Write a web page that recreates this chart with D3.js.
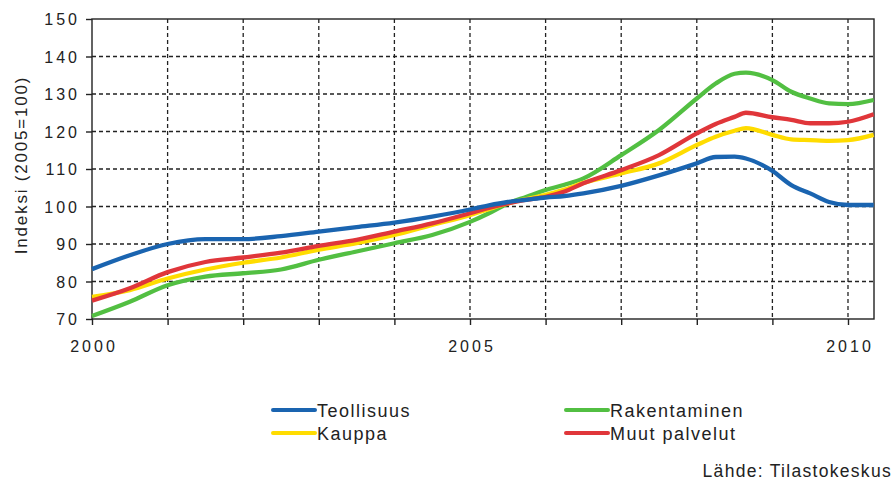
<!DOCTYPE html>
<html>
<head>
<meta charset="utf-8">
<script src="https://cdn.jsdelivr.net/npm/d3@7"></script>
<style>
  body { margin: 0; background: #fff; }
  svg { display: block; font-family: "Liberation Sans", Arial, sans-serif; }
</style>
</head>
<body>
<svg id="chart" width="892" height="487"></svg>
<script>
// time points (decimal years)
const dates = [2000, 2000.5, 2001, 2001.5, 2002, 2002.5, 2003, 2003.5, 2004, 2004.5,
  2005, 2005.25, 2005.5, 2005.75, 2006, 2006.25, 2006.5, 2007, 2007.5, 2008,
  2008.25, 2008.5, 2008.65, 2009, 2009.25, 2009.5, 2009.75, 2010, 2010.34]

const teollisuus = [83.3, 87, 90, 91.3, 91.3, 92.1, 93.3, 94.5, 95.7, 97.3,
  99.2, 100.3, 101.2, 101.8, 102.4, 102.8, 103.5, 105.5, 108.3, 111.5,
  113.2, 113.3, 112.8, 109.5, 105.7, 103.5, 101.2, 100.4, 100.4]

const rakentaminen = [70.8, 74.6, 79, 81.3, 82.2, 83.2, 85.8, 88, 90.2, 92.4,
  95.9, 98.2, 100.8, 102.6, 104.4, 105.8, 107.5, 113.7, 120.4, 128.8,
  132.8, 135.4, 135.7, 133.7, 130.6, 128.8, 127.5, 127.3, 128.4]

const kauppa = [75.9, 77.7, 80.8, 83.2, 85, 86.4, 88.5, 90.2, 92.4, 95.1,
  97.7, 99.3, 100.8, 102, 103.1, 104.5, 106.3, 108.8, 111.5, 116.4,
  118.6, 120.2, 120.9, 119.1, 117.9, 117.7, 117.5, 117.7, 119.1]

const muutPalvelut = [74.9, 78.2, 82.5, 85.2, 86.4, 87.7, 89.5, 91.1, 93.3, 95.5,
  98.2, 99.6, 100.8, 101.8, 102.6, 104, 106.2, 109.7, 113.7, 119.5,
  122, 123.9, 125, 123.8, 123.1, 122.2, 122.2, 122.6, 124.6]

const yTicks = [70, 80, 90, 100, 110, 120, 130, 140, 150]
const xTicks = [2000, 2001, 2002, 2003, 2004, 2005, 2006, 2007, 2008, 2009, 2010]
const xLabels = [2000, 2005, 2010]

const seriesNames = ["Teollisuus", "Rakentaminen", "Kauppa", "Muut palvelut"]
const seriesColors = ["#1a64b0", "#52bf42", "#ffdc00", "#e0363a"]

const series = [
  {name: seriesNames[0], values: teollisuus, color: seriesColors[0]},
  {name: seriesNames[1], values: rakentaminen, color: seriesColors[1]},
  {name: seriesNames[2], values: kauppa, color: seriesColors[2]},
  {name: seriesNames[3], values: muutPalvelut, color: seriesColors[3]}
]

const plot = {left: 92, right: 874, top: 19, bottom: 319}

const svg = d3.select("#chart")

const xScale = d3.scaleLinear()
  .domain([2000, 2010.344])
  .range([plot.left, plot.right])

const yScale = d3.scaleLinear()
  .domain([70, 150])
  .range([plot.bottom, plot.top])

// dashed grid
svg.append("g").selectAll("line")
  .data(yTicks.filter(d => d > 70 && d < 150))
  .join("line")
  .attr("x1", plot.left).attr("x2", plot.right)
  .attr("y1", d => yScale(d)).attr("y2", d => yScale(d))
  .attr("stroke", "#222").attr("stroke-width", 1.3)
  .attr("stroke-dasharray", "4,3")

svg.append("g").selectAll("line")
  .data(xTicks.filter(d => d > 2000))
  .join("line")
  .attr("x1", d => xScale(d)).attr("x2", d => xScale(d))
  .attr("y1", plot.top).attr("y2", plot.bottom)
  .attr("stroke", "#222").attr("stroke-width", 1.3)
  .attr("stroke-dasharray", "4,3")

// axes
const xAxis = d3.axisBottom(xScale)
  .tickValues(xTicks)
  .tickSize(6)
  .tickFormat(d => xLabels.includes(d) ? d : "")

const yAxis = d3.axisLeft(yScale)
  .tickValues(yTicks)
  .tickSize(6)
  .tickFormat(d => d)

const gx = svg.append("g")
  .attr("transform", `translate(0, ${plot.bottom})`)
  .call(xAxis)
gx.select(".domain").remove()
gx.selectAll(".tick line").attr("stroke", "#222").attr("stroke-width", 1.4)
gx.selectAll(".tick text")
  .attr("y", 0).attr("dy", 0)
  .attr("transform", "translate(1.5, 33)")
  .style("font-size", "16px").style("letter-spacing", "3px")
  .attr("fill", "#222")

const gy = svg.append("g")
  .attr("transform", `translate(${plot.left}, 0)`)
  .call(yAxis)
gy.select(".domain").remove()
gy.selectAll(".tick line").attr("stroke", "#222").attr("stroke-width", 1.4)
gy.selectAll(".tick text")
  .attr("x", -12).attr("dy", "0.36em")
  .style("font-size", "16px").style("letter-spacing", "3px")
  .attr("fill", "#222")

// frame
svg.append("rect")
  .attr("x", plot.left).attr("y", plot.top)
  .attr("width", plot.right - plot.left)
  .attr("height", plot.bottom - plot.top)
  .attr("fill", "none")
  .attr("stroke", "#222").attr("stroke-width", 1.4)

// y axis title
svg.append("text")
  .attr("transform", "translate(27, 165) rotate(-90)")
  .attr("text-anchor", "middle")
  .style("font-size", "17px").style("letter-spacing", "1.8px")
  .attr("fill", "#222")
  .text("Indeksi (2005=100)")

// lines
const line = d3.line()
  .x((d, i) => xScale(dates[i]))
  .y(d => yScale(d))
  .curve(d3.curveMonotoneX)

const drawOrder = [1, 2, 3, 0]
svg.append("g").selectAll("path")
  .data(drawOrder.map(i => series[i]))
  .join("path")
  .attr("d", d => line(d.values))
  .attr("fill", "none")
  .attr("stroke", d => d.color)
  .attr("stroke-width", 4.3)
  .attr("stroke-linejoin", "round")

// legend: two columns
const legendPos = [
  {x: 273, y: 410}, {x: 566, y: 410},
  {x: 273, y: 433}, {x: 566, y: 433}
]

const legend = svg.append("g").selectAll("g")
  .data(series)
  .join("g")
  .attr("transform", (d, i) => `translate(${legendPos[i].x}, ${legendPos[i].y})`)

legend.append("line")
  .attr("x1", 0).attr("x2", 42)
  .attr("stroke", d => d.color)
  .attr("stroke-width", 4)
  .attr("stroke-linecap", "round")

legend.append("text")
  .attr("x", 44).attr("y", 7)
  .style("font-size", "18px").style("letter-spacing", "1.5px")
  .attr("fill", "#222")
  .text(d => d.name)

svg.append("text")
  .attr("x", 892).attr("y", 477)
  .attr("text-anchor", "end")
  .style("font-size", "17.5px").style("letter-spacing", "1.3px")
  .attr("fill", "#222")
  .text("Lähde: Tilastokeskus")
</script>
</body>
</html>
